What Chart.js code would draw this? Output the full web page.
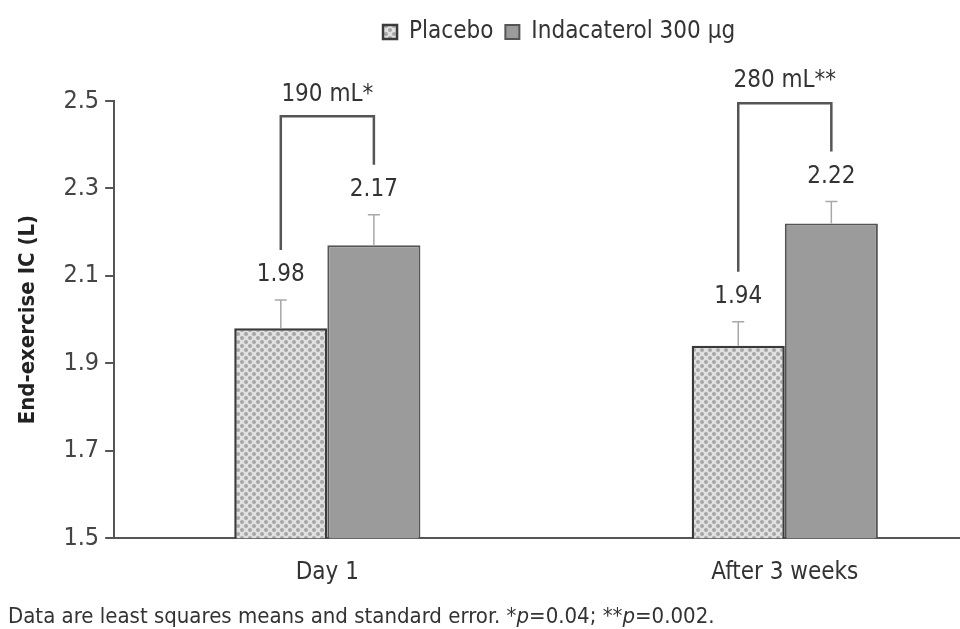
<!DOCTYPE html>
<html><head><meta charset="utf-8">
<script src="https://cdn.jsdelivr.net/npm/chart.js@4/dist/chart.umd.min.js"></script>
<style>html,body{margin:0;padding:0;background:#fff;}#wrap{width:960px;height:629px;position:relative;}</style>
</head><body><div id="wrap"><canvas id="c"></canvas></div>
<script>
const categories = ['Day 1', 'After 3 weeks'];
const seriesNames = ['Placebo', 'Indacaterol 300 μg'];
const placeboMeans = [1.98, 1.94];
const indacaterolMeans = [2.17, 2.22];
const placeboSE = [0.065, 0.055];
const indacaterolSE = [0.07, 0.05];
const yTicks = [1.5, 1.7, 1.9, 2.1, 2.3, 2.5];
const diffLabels = ['190 mL*', '280 mL**'];
const bracketLevels = [2.465, 2.495];
const yTitle = 'End-exercise IC (L)';
const footnoteParts = [
  ['Data are least squares means and standard error. *', false],
  ['p', true], ['=0.04; **', false], ['p', true], ['=0.002.', false]
];

const FONT = "'DejaVu Sans Condensed', 'Liberation Sans Narrow', 'DejaVu Sans', sans-serif";

function makePattern() {
  const p = document.createElement('canvas');
  p.width = 8; p.height = 8;
  const g = p.getContext('2d');
  g.fillStyle = '#e0e0e0'; g.fillRect(0, 0, 8, 8);
  g.fillStyle = '#a6a6a6';
  [[2, 2], [6, 6]].forEach(([x, y]) => { g.beginPath(); g.arc(x, y, 2, 0, Math.PI * 2); g.fill(); });
  return document.getElementById('c').getContext('2d').createPattern(p, 'repeat');
}
const placeboFill = makePattern();

const legendMargin = {
  id: 'legendMargin',
  beforeInit(chart) {
    const orig = chart.legend.fit;
    chart.legend.fit = function () { orig.bind(chart.legend)(); this.height += 47; };
  },
  afterLayout(chart) { chart.legend.left += 22; chart.legend.right += 22; }
};

const annotate = {
  id: 'annotate',
  afterDatasetsDraw(chart) {
    const ctx = chart.ctx, ys = chart.scales.y;
    const seList = [placeboSE, indacaterolSE];
    const centers = [[], []];
    chart.data.datasets.forEach((ds, di) => {
      chart.getDatasetMeta(di).data.forEach((bar, i) => {
        const v = ds.data[i].y;
        const top = ys.getPixelForValue(v + seList[di][i]);
        ctx.save();
        ctx.strokeStyle = '#a8a8a8'; ctx.lineWidth = 1.5;
        ctx.beginPath();
        ctx.moveTo(bar.x, bar.y); ctx.lineTo(bar.x, top);
        ctx.moveTo(bar.x - 6, top); ctx.lineTo(bar.x + 6, top);
        ctx.stroke();
        ctx.fillStyle = '#333'; ctx.font = '24px ' + FONT;
        ctx.textAlign = 'center'; ctx.textBaseline = 'middle';
        const ly = top - 25;
        ctx.fillText(v.toFixed(2), bar.x, ly);
        ctx.restore();
        centers[di][i] = { x: bar.x, y: ly };
      });
    });
    categories.forEach((c, i) => {
      const a = centers[0][i], b = centers[1][i];
      const ty = ys.getPixelForValue(bracketLevels[i]);
      ctx.save();
      ctx.strokeStyle = '#555'; ctx.lineWidth = 2.5;
      ctx.beginPath();
      ctx.moveTo(a.x, a.y - 25); ctx.lineTo(a.x, ty); ctx.lineTo(b.x, ty); ctx.lineTo(b.x, b.y - 25);
      ctx.stroke();
      ctx.fillStyle = '#333'; ctx.font = '24px ' + FONT;
      ctx.textAlign = 'center'; ctx.textBaseline = 'middle';
      ctx.fillText(diffLabels[i], (a.x + b.x) / 2, ty - 22);
      ctx.restore();
    });
  },
  afterDraw(chart) {
    const ctx = chart.ctx;
    ctx.save();
    ctx.fillStyle = '#333'; ctx.textBaseline = 'middle'; ctx.textAlign = 'left';
    let x = 8;
    footnoteParts.forEach(([t, it]) => {
      ctx.font = (it ? 'italic ' : '') + '22px ' + FONT;
      ctx.fillText(t, x, chart.height - 12);
      x += ctx.measureText(t).width;
    });
    ctx.restore();
  }
};

new Chart(document.getElementById('c'), {
  type: 'bar',
  data: {
    datasets: [
      { label: seriesNames[0], data: placeboMeans.map((v, i) => ({ x: i, y: v })),
        backgroundColor: placeboFill, borderColor: '#3a3a3a', borderWidth: 2.5 },
      { label: seriesNames[1], data: indacaterolMeans.map((v, i) => ({ x: i, y: v })),
        backgroundColor: '#9b9b9b', borderColor: '#555', borderWidth: 2 }
    ]
  },
  options: {
    responsive: true, maintainAspectRatio: false, animation: false,
    categoryPercentage: 0.407, barPercentage: 1,
    layout: { padding: { top: 8, left: 11, right: 0, bottom: 22 } },
    plugins: {
      legend: {
        position: 'top', fullSize: false,
        labels: { boxWidth: 14, boxHeight: 14, padding: 12, color: '#333', font: { family: FONT, size: 24 } }
      },
      tooltip: { enabled: false }
    },
    scales: {
      x: {
        type: 'linear', min: -0.466, max: 1.383, offset: false,
        afterBuildTicks: s => { s.ticks = categories.map((c, i) => ({ value: i })); },
        ticks: { callback: v => categories[Math.round(v)], color: '#333', padding: 20, maxRotation: 0,
                 font: { family: FONT, size: 24 } },
        grid: { display: false, drawTicks: false, offset: false },
        border: { display: true, color: '#555', width: 2 }
      },
      y: {
        min: 1.5, max: 2.5,
        afterBuildTicks: s => { s.ticks = yTicks.map(v => ({ value: v })); },
        ticks: { callback: v => v.toFixed(1), color: '#444', padding: 6, font: { family: FONT, size: 25 } },
        grid: { drawOnChartArea: false, drawTicks: true, tickLength: 9, color: '#555', lineWidth: 2 },
        border: { display: true, color: '#555', width: 2 },
        title: { display: true, text: yTitle, color: '#222', padding: { top: 4, bottom: 16 },
                 font: { family: FONT, size: 22, weight: 'bold' } }
      }
    }
  },
  plugins: [legendMargin, annotate]
});
</script></body></html>
